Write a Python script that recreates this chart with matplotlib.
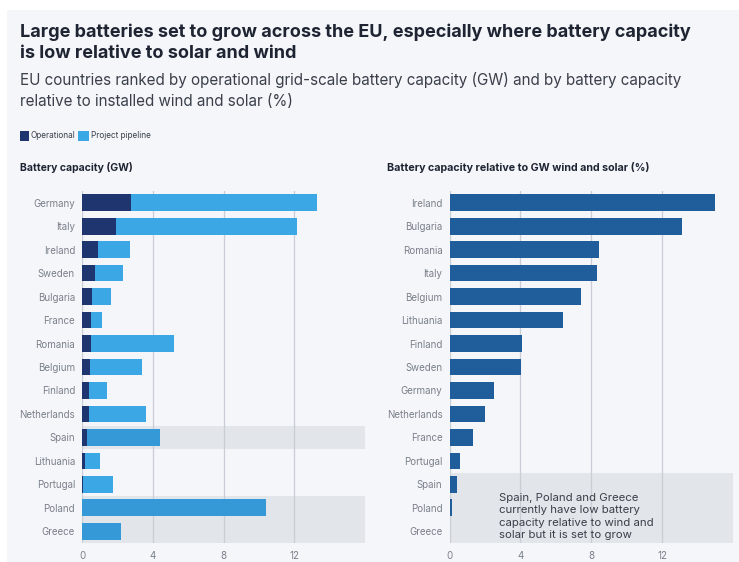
import numpy as np
import matplotlib.pyplot as plt

# --- data ---
countries_gw = ["Germany", "Italy", "Ireland", "Sweden", "Bulgaria", "France", "Romania",
                "Belgium", "Finland", "Netherlands", "Spain", "Lithuania", "Portugal",
                "Poland", "Greece"]
operational = [2.76, 1.95, 0.93, 0.76, 0.57, 0.51, 0.49, 0.45, 0.38, 0.38, 0.28, 0.19, 0.05, 0.02, 0.02]
pipeline = [10.51, 10.20, 1.79, 1.58, 1.09, 0.62, 4.70, 2.93, 1.02, 3.22, 4.12, 0.81, 1.73, 10.41, 2.19]

countries_pct = ["Ireland", "Bulgaria", "Romania", "Italy", "Belgium", "Lithuania", "Finland",
                 "Sweden", "Germany", "Netherlands", "France", "Portugal", "Spain", "Poland",
                 "Greece"]
ratio_pct = [15.0, 13.1, 8.42, 8.32, 7.41, 6.42, 4.11, 4.02, 2.51, 2.02, 1.32, 0.62, 0.44, 0.13, 0.0]

highlight = ["Spain", "Poland", "Greece"]
x_ticks = [0, 4, 8, 12]

# --- colours ---
BG = "#f4f6fa"
BAND = "#e2e5e9"
OP_C = "#1f3570"
PIPE_C = "#3ba7e5"
PIPE_HL = "#3499d6"
RATIO_C = "#205e9b"
GRID_C = "#c9cdd6"
TXT = "#1e2432"
SUB = "#3a3f4a"
TICK = "#7a7f8a"

plt.rcParams['font.family'] = ['Inter', 'DejaVu Sans']

fig = plt.figure(figsize=(7.39, 5.62), dpi=100)
fig.patch.set_facecolor("white")
fig.add_artist(plt.Rectangle((7 / 739, 0), 1, 1 - 10 / 562, transform=fig.transFigure,
                             facecolor=BG, edgecolor="none", zorder=-10))

fig.text(20 / 739, 1 - 32 / 562, "Large batteries set to grow across the EU, especially where battery capacity",
         fontsize=13.0, fontweight="bold", color=TXT, va="center")
fig.text(20 / 739, 1 - 53 / 562, "is low relative to solar and wind",
         fontsize=13.0, fontweight="bold", color=TXT, va="center")
fig.text(20 / 739, 1 - 80 / 562, "EU countries ranked by operational grid-scale battery capacity (GW) and by battery capacity",
         fontsize=10.95, color=SUB, va="center")
fig.text(20 / 739, 1 - 101 / 562, "relative to installed wind and solar (%)",
         fontsize=10.95, color=SUB, va="center")

# legend
fig.add_artist(plt.Rectangle((20 / 739, 1 - 141 / 562), 9 / 739, 10 / 562, transform=fig.transFigure,
                             facecolor=OP_C, edgecolor="none"))
fig.text(30.5 / 739, 1 - 136 / 562, "Operational", fontsize=5.9, color=SUB, va="center")
fig.add_artist(plt.Rectangle((78 / 739, 1 - 141 / 562), 11 / 739, 10 / 562, transform=fig.transFigure,
                             facecolor=PIPE_C, edgecolor="none"))
fig.text(91 / 739, 1 - 136 / 562, "Project pipeline", fontsize=5.9, color=SUB, va="center")

fig.text(20 / 739, 1 - 168 / 562, "Battery capacity (GW)", fontsize=7.5, fontweight="bold", color=TXT, va="center")
fig.text(387 / 739, 1 - 168 / 562, "Battery capacity relative to GW wind and solar (%)",
         fontsize=7.7, fontweight="bold", color=TXT, va="center")

bottom = 1 - 543 / 562
height = (543 - 191) / 562
ax1 = fig.add_axes([82 / 739, bottom, (365 - 82) / 739, height])
ax2 = fig.add_axes([449.5 / 739, bottom, (733 - 449.5) / 739, height])


def style(ax, labels):
    ax.set_facecolor("none")
    ax.set_xlim(0, 16)
    ax.set_ylim(len(labels) - 0.5, -0.5)
    for s in ax.spines.values():
        s.set_visible(False)
    ax.set_xticks(x_ticks)
    ax.set_yticks(range(len(labels)))
    ax.set_yticklabels(labels)
    ax.tick_params(length=0, labelsize=7, labelcolor=TICK)
    ax.tick_params(axis="y", pad=5)
    ax.tick_params(axis="x", pad=6)
    for t in x_ticks:
        ax.axvline(t, color=GRID_C, lw=0.9, zorder=0.5)
    for i, c in enumerate(labels):
        if c in highlight:
            ax.axhspan(i - 0.5, i + 0.5, xmin=0, xmax=1, color=BAND, lw=0, zorder=0.2)


style(ax1, countries_gw)
y1 = np.arange(len(countries_gw))
pipe_colors = [PIPE_HL if c in highlight else PIPE_C for c in countries_gw]
ax1.barh(y1, operational, height=0.71, color=OP_C, zorder=2)
ax1.barh(y1, pipeline, left=operational, height=0.71, color=pipe_colors, zorder=2)

style(ax2, countries_pct)
y2 = np.arange(len(countries_pct))
ax2.barh(y2, ratio_pct, height=0.71, color=RATIO_C, zorder=2)
ax2.text(2.8, 12.38, "Spain, Poland and Greece\ncurrently have low battery\ncapacity relative to wind and\nsolar but it is set to grow",
         fontsize=8.2, color=SUB, va="top", ha="left", linespacing=1.27, zorder=3)

fig.savefig("out.png", dpi=100)
